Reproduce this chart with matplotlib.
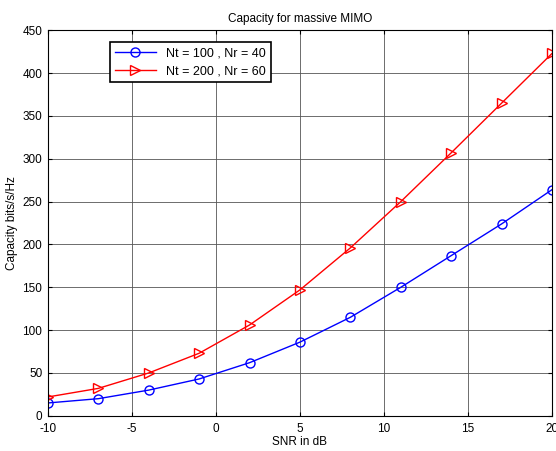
import numpy as np
import matplotlib.pyplot as plt

plt.rcParams['font.family'] = ['Liberation Sans', 'DejaVu Sans']
plt.rcParams['axes.unicode_minus'] = False

snr_db = [-10, -7, -4, -1, 2, 5, 8, 11, 14, 17, 20]
cap_100_40 = [15, 20, 30, 43, 62, 86, 115, 150, 187, 224, 264]
cap_200_60 = [22, 32, 50, 73, 106, 147, 196, 250, 307, 365, 423]

fig = plt.figure(figsize=(5.56, 4.51), dpi=100)
ax = fig.add_axes([0.086, 0.078, 0.907, 0.855])

ax.plot(snr_db, cap_100_40, color='blue', marker='o', mfc='none', ms=6.5,
        lw=1, label='Nt = 100 , Nr = 40')
ax.plot(snr_db, cap_200_60, color='red', marker='>', mfc='none', ms=7.5,
        lw=1, label='Nt = 200 , Nr = 60')

ax.set_xlim(-10, 20)
ax.set_ylim(0, 450)
ax.set_xticks(np.arange(-10, 21, 5))
ax.set_yticks(np.arange(0, 451, 50))
ax.grid(True, color='#555555', lw=0.6)
ax.tick_params(direction='in', top=True, right=True, labelsize=8.5, length=3)
ax.tick_params(axis='x', pad=5)
ax.tick_params(axis='y', pad=4)
for s in ax.spines.values():
    s.set_linewidth(0.8)

ax.set_title('Capacity for massive MIMO', fontsize=8.5)
ax.set_xlabel('SNR in dB', fontsize=8.5, labelpad=1)
ax.set_ylabel('Capacity bits/s/Hz', fontsize=8.5, labelpad=3)

leg = ax.legend(loc='upper left', bbox_to_anchor=(0.123, 0.969), fontsize=9,
                fancybox=False, framealpha=1, edgecolor='black',
                handlelength=3.3, borderpad=0.4, borderaxespad=0)
leg.get_frame().set_linewidth(1.2)

plt.savefig('out.png', dpi=100)
